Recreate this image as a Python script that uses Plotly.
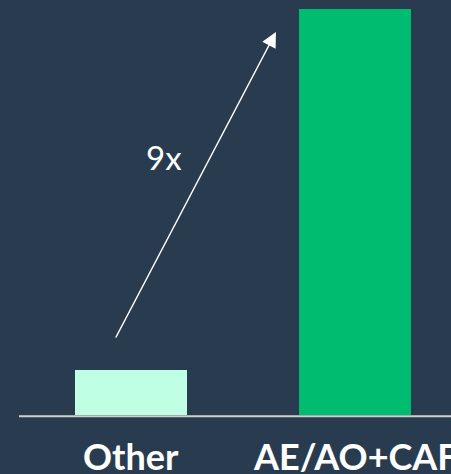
import plotly.graph_objects as go

# Relative scale of the two groups
categories = ["Other", "AE/AO+CAF"]
values = [1, 9]
bar_colors = ["#bfffe3", "#00bc70"]
multiplier_label = "9x"

BG = "#293c4f"
FONT = "Lato, 'Noto Sans', sans-serif"

x_pos = list(range(len(categories)))

fig = go.Figure(
    go.Bar(
        x=x_pos,
        y=values,
        width=0.5,
        marker=dict(color=bar_colors, line=dict(width=0)),
        hoverinfo="skip",
    )
)

# Baseline under the bars (paper coords so it is not clipped by the plot area)
fig.add_shape(
    type="line", xref="paper", yref="paper",
    x0=19 / 451, x1=1.0, y0=-0.003, y1=-0.003,
    line=dict(color="#d0d0d0", width=2.2),
    layer="above",
)

# Category labels below the baseline
for xp, name in zip(x_pos, categories):
    fig.add_annotation(
        x=xp, y=-0.041, xref="x", yref="paper",
        text=f"<b>{name}</b>", showarrow=False,
        xanchor="center", yanchor="top",
        font=dict(family=FONT, size=36, color="white"),
    )

# Growth arrow from the small bar toward the tall bar
fig.add_annotation(
    x=0.647, y=8.49, ax=-0.0714, ay=1.685,
    xref="x", yref="y", axref="x", ayref="y",
    text="", showarrow=True,
    arrowhead=2, arrowsize=2, arrowwidth=1.5, arrowcolor="white",
)
fig.add_annotation(
    x=0.147, y=5.72, xref="x", yref="y",
    text=multiplier_label, showarrow=False,
    font=dict(family=FONT, size=33, color="white"),
)

fig.update_layout(
    width=451, height=474,
    margin=dict(l=0, r=0, t=0, b=59),
    paper_bgcolor=BG, plot_bgcolor=BG,
    showlegend=False,
    xaxis=dict(range=[-131 / 224, 320 / 224], visible=False, fixedrange=True),
    yaxis=dict(range=[0, 9.2], visible=False, fixedrange=True),
)

fig.write_html("out.html")
